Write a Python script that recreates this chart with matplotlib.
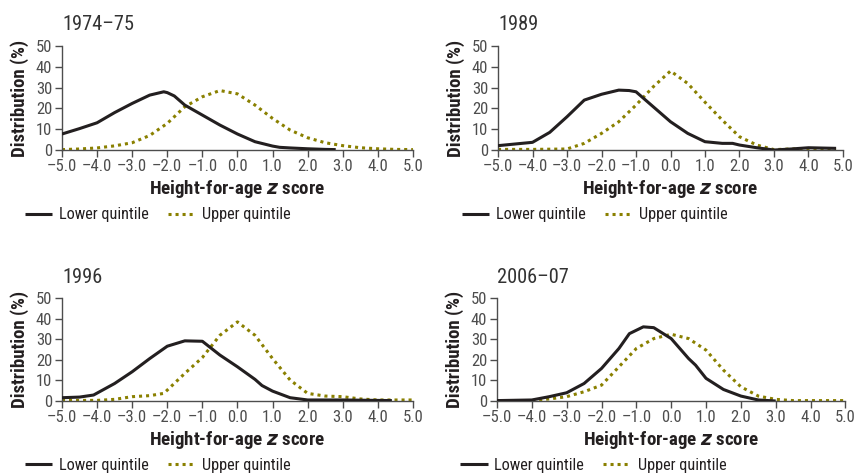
import matplotlib.pyplot as plt

plt.rcParams['font.family'] = ['Roboto Condensed', 'Liberation Sans Narrow', 'Liberation Sans', 'DejaVu Sans']

LOWER_COLOR = "#231f20"
UPPER_COLOR = "#8a8000"
TICK_GRAY = "#4d4d4d"

# data (z score, distribution %)
titles = ["1974\u201375", "1989", "1996", "2006\u201307"]

x_ticks = [-5, -4, -3, -2, -1, 0, 1, 2, 3, 4, 5]
x_tick_labels = ["\u20135.0", "\u20134.0", "\u20133.0", "\u20132.0", "\u20131.0",
                 "0.0", "1.0", "2.0", "3.0", "4.0", "5.0"]
y_ticks = [0, 10, 20, 30, 40, 50]

lower_x_1974 = [-5, -4.5, -4, -3.5, -3, -2.5, -2.1, -2, -1.8, -1.5, -1, -0.5, 0, 0.5, 1, 1.2, 1.5, 2, 2.5, 2.8]
lower_y_1974 = [7.7, 10.3, 13.1, 18, 22.4, 26.4, 28, 27.6, 26, 21.6, 16.8, 12, 7.7, 4, 1.9, 1.3, 1, 0.6, 0.3, 0.2]
upper_x_1974 = [-5, -4.5, -4, -3.5, -3, -2.5, -2, -1.5, -1, -0.5, 0, 0.5, 1, 1.5, 2, 2.5, 3, 3.5, 4, 4.5, 5]
upper_y_1974 = [0.2, 0.5, 1, 2, 3.5, 7, 12.8, 20.8, 25.6, 28.6, 27, 21.6, 15.2, 9.6, 5.9, 3.5, 2.1, 1.1, 0.6, 0.3, 0.2]

lower_x_1989 = [-5, -4.5, -4, -3.5, -3, -2.5, -2, -1.5, -1.2, -1, -0.5, 0, 0.5, 1, 1.5, 1.8, 2, 2.5, 3, 3.5, 4, 4.8]
lower_y_1989 = [2.1, 2.9, 3.7, 8.5, 16, 24, 26.8, 28.8, 28.6, 28, 20.8, 13.6, 8, 4, 3.2, 3.2, 2.4, 1.1, 0, 0.5, 1.1, 0.8]
upper_x_1989 = [-5, -4, -3, -2.5, -2, -1.5, -1, -0.5, 0, 0.5, 1, 1.5, 2, 2.5, 3, 3.5, 4, 4.8]
upper_y_1989 = [0.3, 0.3, 0.5, 3.2, 8, 13.6, 21.6, 30.4, 38, 32, 23, 14.4, 6.4, 2.4, 0.2, 0.5, 0.6, 0.3]

lower_x_1996 = [-5, -4.5, -4.1, -3.5, -3, -2.5, -2, -1.5, -1, -0.5, 0, 0.5, 0.7, 1, 1.5, 2, 3, 4.4]
lower_y_1996 = [1.6, 1.9, 2.9, 8.5, 14.2, 20.6, 26.6, 29.2, 29, 22.3, 16.6, 10.5, 7.5, 4.8, 1.6, 0.5, 0.5, 0.2]
upper_x_1996 = [-5, -4, -3.5, -3, -2.5, -2.1, -2, -1.5, -1, -0.5, 0, 0.5, 1, 1.5, 2, 2.5, 3, 3.5, 4, 5]
upper_y_1996 = [0.3, 0.3, 0.8, 2.1, 2.6, 3.7, 5.3, 13.4, 21.1, 31.9, 38.4, 31.9, 20.6, 10.2, 3.7, 2.4, 2.1, 1, 0.5, 0.5]

lower_x_2006 = [-5, -4, -3.5, -3, -2.5, -2, -1.5, -1.2, -0.8, -0.5, 0, 0.5, 0.7, 1, 1.5, 2, 2.5, 3]
lower_y_2006 = [0.2, 0.5, 2.1, 4, 8.5, 15.8, 25.5, 32.7, 36, 35.6, 30.3, 20.6, 17.4, 11, 5.6, 2.4, 0.5, 0]
upper_x_2006 = [-5, -4, -3.5, -3, -2.5, -2, -1.5, -1, -0.5, 0, 0.5, 1, 1.5, 2, 2.5, 3, 3.5, 4, 5]
upper_y_2006 = [0.2, 0.2, 1, 2.1, 4.5, 7.7, 16.6, 25.5, 30.3, 32.4, 30.3, 24.7, 15, 6.9, 2.4, 0.8, 0.2, 0.2, 0.2]

panels = [
    (lower_x_1974, lower_y_1974, upper_x_1974, upper_y_1974),
    (lower_x_1989, lower_y_1989, upper_x_1989, upper_y_1989),
    (lower_x_1996, lower_y_1996, upper_x_1996, upper_y_1996),
    (lower_x_2006, lower_y_2006, upper_x_2006, upper_y_2006),
]

# axes boxes in figure fraction [left, bottom, width, height]
boxes = [
    [0.0724, 0.6835, 0.410, 0.2194],
    [0.5818, 0.6835, 0.403, 0.2194],
    [0.0724, 0.1540, 0.410, 0.2173],
    [0.5806, 0.1540, 0.407, 0.2173],
]

fig = plt.figure(figsize=(8.56, 4.74), dpi=100)

for i, (lx, ly, ux, uy) in enumerate(panels):
    ax = fig.add_axes(boxes[i])
    ax.plot(ux, uy, color=UPPER_COLOR, linestyle=(0, (1, 1.3)), linewidth=2.2,
            label="Upper quintile", zorder=2)
    ax.plot(lx, ly, color=LOWER_COLOR, linewidth=2.2, label="Lower quintile",
            solid_capstyle='butt', zorder=3)

    ax.set_xlim(-5, 5)
    ax.set_ylim(0, 50)
    ax.set_xticks(x_ticks)
    ax.set_xticklabels(x_tick_labels)
    ax.set_yticks(y_ticks)
    ax.tick_params(axis='both', labelsize=12, colors=TICK_GRAY, length=5, width=1)
    ax.tick_params(axis='x', pad=1.5)
    ax.tick_params(axis='y', pad=2)
    for s in ['top', 'right']:
        ax.spines[s].set_visible(False)
    for s in ['left', 'bottom']:
        ax.spines[s].set_color(TICK_GRAY)
        ax.spines[s].set_linewidth(1)

    ax.set_ylabel("Distribution (%)", fontsize=13.5, fontweight='bold', color=LOWER_COLOR, labelpad=5)
    ax.set_xlabel("Height-for-age $\\boldsymbol{z}$ score", fontsize=13.6, fontweight='bold',
                  color=LOWER_COLOR, labelpad=2.5)
    ax.text(0.0, 1.15, titles[i], transform=ax.transAxes, fontsize=14.7,
            color="#333333", ha='left', va='baseline')

    handles, labels = ax.get_legend_handles_labels()
    ax.legend(handles[::-1], labels[::-1], loc='upper left', bbox_to_anchor=(-0.148, -0.41),
              ncol=2, frameon=False, fontsize=11.7, handlelength=1.7, columnspacing=1.2,
              handletextpad=0.4, labelcolor=LOWER_COLOR)

fig.savefig("out.png", dpi=100)
